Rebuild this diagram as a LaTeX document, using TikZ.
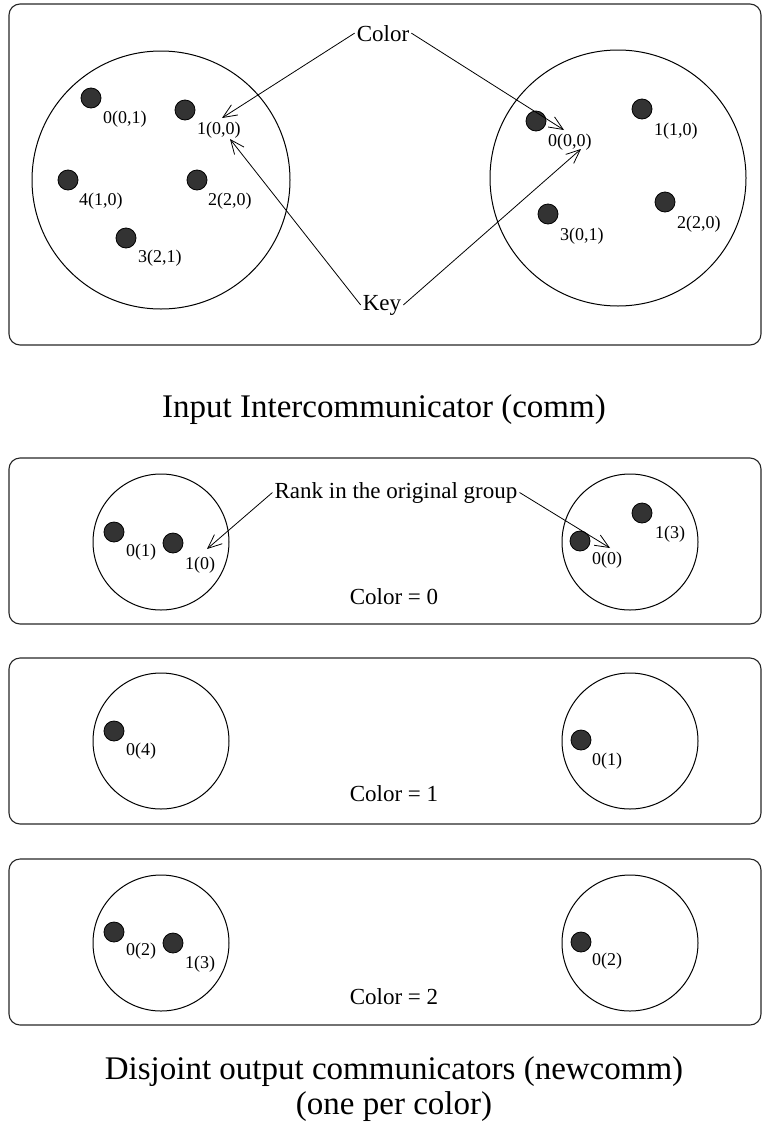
\documentclass[tikz,border=0pt]{standalone}
\usepackage{fontspec}
\setmainfont{Liberation Serif}
\usetikzlibrary{arrows.meta}
\begin{document}
\begin{tikzpicture}[x=1pt,y=-1pt,
  frame/.style={draw=black!85,line width=1.1pt,rounded corners=11pt},
  grp/.style={draw,line width=1pt},
  proc/.style={circle,draw=black,fill=black!80,line width=0.8pt,minimum size=20pt,inner sep=0pt},
  plab/.style={anchor=base west,inner sep=0pt,font=\fontsize{18}{20}\selectfont},
  mlab/.style={anchor=base,inner sep=0pt,font=\fontsize{23}{26}\selectfont},
  captext/.style={anchor=base,inner sep=0pt,font=\fontsize{33}{37}\selectfont},
  arr/.style={line width=0.8pt,-{Straight Barb[length=14pt,width=12pt]}}]
\useasboundingbox (0,0) rectangle (762,1130);

% ---------- top box: input intercommunicator ----------
\draw[frame] (9,4) rectangle (761,345);
\draw[grp] (161,180) circle (129);
\draw[grp] (618,178) circle (128);

\node[proc] (a0) at (91,98) {};   \node[plab] (la0) at (103,123) {0(0,1)};
\node[proc] (a1) at (185,110) {}; \node[plab] (la1) at (197,134) {1(0,0)};
\node[proc] (a4) at (68,180) {};  \node[plab] (la4) at (79,205) {4(1,0)};
\node[proc] (a2) at (197,180) {}; \node[plab] (la2) at (208,205) {2(2,0)};
\node[proc] (a3) at (126,238) {}; \node[plab] (la3) at (138,262) {3(2,1)};

\node[proc] (b0) at (536,121) {}; \node[plab] (lb0) at (548,146) {0(0,0)};
\node[proc] (b1) at (642,109) {}; \node[plab] (lb1) at (654,135) {1(1,0)};
\node[proc] (b2) at (665,202) {}; \node[plab] (lb2) at (677,228) {2(2,0)};
\node[proc] (b3) at (548,214) {}; \node[plab] (lb3) at (560,240) {3(0,1)};

\node[mlab] (color) at (383,41) {Color};
\node[mlab] (key) at (382,310) {Key};
\coordinate (ca) at (222,118);
\coordinate (cb) at (564,130);
\coordinate (ka) at (230,139);
\coordinate (kb) at (581,149);
\draw[arr] ([xshift=-2pt]color.west) -- (ca);
\draw[arr] ([xshift=2pt]color.east) -- (cb);
\draw[arr] ([xshift=-2pt]key.west) -- (ka);
\draw[arr] ([xshift=2pt]key.east) -- (kb);

\node[captext] (incap) at (384,417) {Input Intercommunicator (comm)};

% ---------- color = 0 ----------
\draw[frame] (9,458) rectangle (761,624);
\draw[grp] (161,542) circle (68);
\draw[grp] (630,542) circle (68);
\node[proc] (c0a) at (114,532) {}; \node[plab] (lc0a) at (126,556) {0(1)};
\node[proc] (c0b) at (173,543) {}; \node[plab] (lc0b) at (185,569) {1(0)};
\node[proc] (c0c) at (580,541) {}; \node[plab] (lc0c) at (592,564) {0(0)};
\node[proc] (c0d) at (642,513) {}; \node[plab] (lc0d) at (655,538) {1(3)};
\node[mlab] (rank) at (396,498) {Rank in the original group};
\coordinate (ra) at (207,549);
\coordinate (rb) at (610,548);
\draw[arr] ([xshift=-2pt]rank.west) -- (ra);
\draw[arr] ([xshift=2pt]rank.east) -- (rb);
\node[mlab] (col0) at (394,604) {Color = 0};

% ---------- color = 1 ----------
\draw[frame] (9,658) rectangle (761,824);
\draw[grp] (161,741) circle (68);
\draw[grp] (630,741) circle (68);
\node[proc] (c1a) at (114,731) {}; \node[plab] (lc1a) at (126,755) {0(4)};
\node[proc] (c1b) at (581,740) {}; \node[plab] (lc1b) at (592,765) {0(1)};
\node[mlab] (col1) at (394,801) {Color = 1};

% ---------- color = 2 ----------
\draw[frame] (9,859) rectangle (761,1025);
\draw[grp] (161,943) circle (68);
\draw[grp] (630,943) circle (68);
\node[proc] (c2a) at (114,932) {}; \node[plab] (lc2a) at (126,955) {0(2)};
\node[proc] (c2b) at (173,943) {}; \node[plab] (lc2b) at (185,968) {1(3)};
\node[proc] (c2c) at (581,942) {}; \node[plab] (lc2c) at (592,965) {0(2)};
\node[mlab] (col2) at (394,1004) {Color = 2};

\node[captext] (outcap1) at (394,1079) {Disjoint output communicators (newcomm)};
\node[captext] (outcap2) at (394,1114) {(one per color)};
\end{tikzpicture}
\end{document}
